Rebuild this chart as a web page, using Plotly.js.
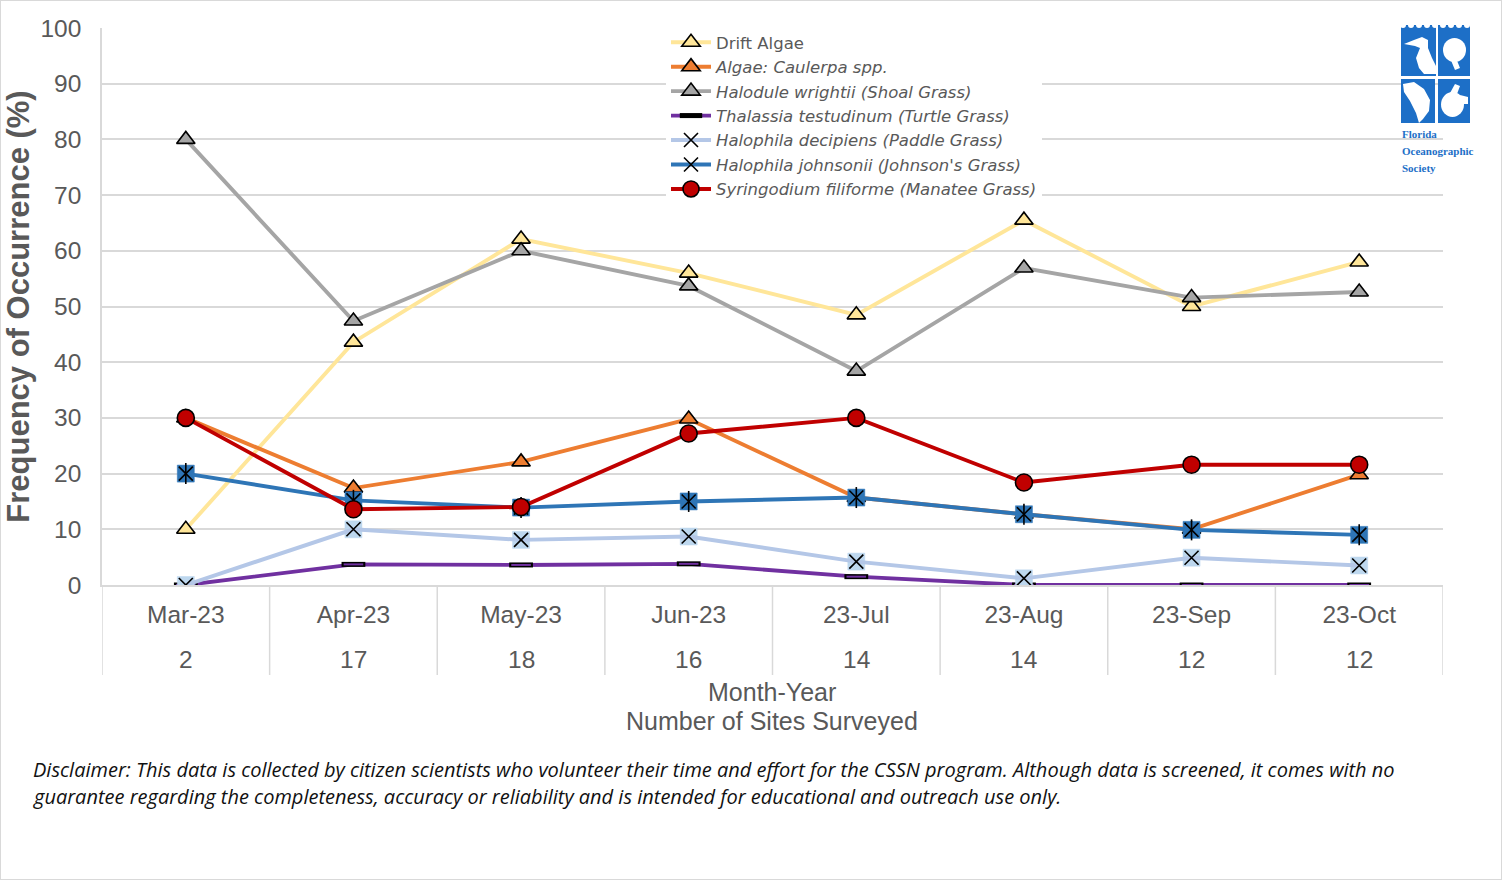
<!DOCTYPE html>
<html>
<head>
<meta charset="utf-8">
<script src="https://cdn.plot.ly/plotly-3.0.1.min.js"></script>
<style>
  html, body { margin: 0; padding: 0; background: #fff; }
  #chart { width: 1500px; height: 878px; border: 1px solid #d9d9d9; }
</style>
</head>
<body>
<div id="chart"></div>
<script>
// ---- data ----
const months = ['Mar-23', 'Apr-23', 'May-23', 'Jun-23', '23-Jul', '23-Aug', '23-Sep', '23-Oct'];
const sitesSurveyed = [2, 17, 18, 16, 14, 14, 12, 12];
const driftAlgae = [10, 43.6, 62.1, 56.0, 48.5, 65.5, 50, 58.0];
const caulerpa = [30, 17.4, 22.1, 29.8, 15.7, 12.7, 10, 19.8];
const halodule = [80, 47.4, 60, 53.7, 38.4, 56.9, 51.6, 52.6];
const thalassia = [0, 3.7, 3.6, 3.8, 1.5, 0, 0, 0];
const decipiens = [0, 10, 8.1, 8.7, 4.2, 1.2, 4.9, 3.5];
const johnsonii = [20, 15.2, 13.9, 15.0, 15.7, 12.7, 9.9, 9.0];
const syringodium = [30, 13.6, 14.0, 27.2, 30, 18.4, 21.6, 21.6];
const seriesNames = [
  'Drift Algae',
  '<i>Algae: Caulerpa spp.</i>',
  '<i>Halodule wrightii (Shoal Grass)</i>',
  '<i>Thalassia testudinum (Turtle Grass)</i>',
  '<i>Halophila decipiens (Paddle Grass)</i>',
  "<i>Halophila johnsonii (Johnson's Grass)</i>",
  '<i>Syringodium filiforme (Manatee Grass)</i>'
];

// ---- styles ----
const LW = 3.9;
const axisGrey = '#595959';
const gridGrey = '#d9d9d9';
const arial = 'Liberation Sans, Arial, sans-serif';

const traces = [];
function main(y, name, color, marker) {
  return { x: months, y: y, name: name, type: 'scatter', mode: 'lines+markers',
           line: { color: color, width: LW }, marker: marker, hoverinfo: 'y+name' };
}
function overlay(y, marker) {
  return { x: months, y: y, type: 'scatter', mode: 'markers', showlegend: false,
           marker: marker, hoverinfo: 'skip' };
}

traces.push(main(driftAlgae, seriesNames[0], '#FFE699',
  { symbol: 'triangle-up', size: 16, color: '#FFE699', line: { color: '#000', width: 1.6 } }));
traces.push(main(caulerpa, seriesNames[1], '#ED7D31',
  { symbol: 'triangle-up', size: 16, color: '#ED7D31', line: { color: '#000', width: 1.6 } }));
traces.push(main(halodule, seriesNames[2], '#A5A5A5',
  { symbol: 'triangle-up', size: 16, color: '#A5A5A5', line: { color: '#000', width: 1.6 } }));
traces.push(main(thalassia, seriesNames[3], '#7030A0',
  { symbol: 'line-ew', size: 17, color: '#000', line: { color: '#000', width: 5 } }));
traces.push(overlay(thalassia,
  { symbol: 'line-ew', size: 14, color: '#7030A0', line: { color: '#7030A0', width: 2 } }));
// Halophila decipiens: light square under a thin black X
traces.push(overlay(decipiens,
  { symbol: 'square', size: 17, color: '#BDD7EE', line: { color: '#BDD7EE', width: 0.5 } }));
traces.push(main(decipiens, seriesNames[4], '#B4C7E7',
  { symbol: 'x-thin', size: 14, color: '#000', line: { color: '#000', width: 1.6 } }));
// Halophila johnsonii: blue square with black star
traces.push(overlay(johnsonii,
  { symbol: 'square', size: 17, color: '#2E75B6', line: { color: '#2E75B6', width: 0.5 } }));
traces.push(main(johnsonii, seriesNames[5], '#2E75B6',
  { symbol: 'x-thin', size: 14, color: '#000', line: { color: '#000', width: 1.6 } }));
traces.push(overlay(johnsonii,
  { symbol: 'line-ns', size: 15, color: '#000', line: { color: '#000', width: 1.6 } }));
traces.push(main(syringodium, seriesNames[6], '#C00000',
  { symbol: 'circle', size: 17, color: '#C00000', line: { color: '#000', width: 1.6 } }));

// ---- geometry helpers (pixel -> paper) ----
const PL = 102, PR = 1443, PT = 28, PB = 585;
const px = v => (v - PL) / (PR - PL);
const py = v => (PB - v) / (PB - PT);
const poly = pts => 'M' + pts.map(p => px(p[0]).toFixed(5) + ',' + py(p[1]).toFixed(5)).join('L') + 'Z';

const shapes = [];
const annotations = [];

// category dividers below the axis
for (let i = 0; i <= months.length; i++) {
  shapes.push({ type: 'line', xref: 'x', yref: 'paper', x0: i - 0.5, x1: i - 0.5,
                y0: 0, y1: py(675), line: { color: gridGrey, width: 1.5 } });
}
// number of sites (second tick row)
sitesSurveyed.forEach((s, i) => {
  annotations.push({ xref: 'x', yref: 'paper', x: months[i], y: py(659), text: String(s),
                     showarrow: false, xanchor: 'center', yanchor: 'middle',
                     font: { family: arial, size: 24.5, color: axisGrey } });
});
// x-axis title (two lines)
annotations.push({ xref: 'paper', yref: 'paper', x: px(772), y: py(692), text: 'Month-Year',
  showarrow: false, xanchor: 'center', yanchor: 'middle',
  font: { family: arial, size: 25, color: axisGrey } });
annotations.push({ xref: 'paper', yref: 'paper', x: px(772), y: py(721), text: 'Number of Sites Surveyed',
  showarrow: false, xanchor: 'center', yanchor: 'middle',
  font: { family: arial, size: 25, color: axisGrey } });
// disclaimer
annotations.push({ xref: 'paper', yref: 'paper', x: px(31), y: py(769), xanchor: 'left', yanchor: 'middle',
  showarrow: false, align: 'left',
  text: '<i>Disclaimer: This data is collected by citizen scientists who volunteer their time and effort for the CSSN program. Although data is screened, it comes with no</i>',
  font: { family: 'Open Sans, Noto Sans, sans-serif', size: 20, color: '#111' } });
annotations.push({ xref: 'paper', yref: 'paper', x: px(31), y: py(796), xanchor: 'left', yanchor: 'middle',
  showarrow: false, align: 'left',
  text: '<i>guarantee regarding the completeness, accuracy or reliability and is intended for educational and outreach use only.</i>',
  font: { family: 'Open Sans, Noto Sans, sans-serif', size: 20, color: '#111' } });

// logo (Florida Oceanographic Society)
const logoBlue = '#1d6fc7';
[[1401, 25, 1436, 76], [1438, 25, 1470, 76], [1401, 79, 1435, 123], [1438, 79, 1470, 123]].forEach(r => {
  shapes.push({ type: 'rect', xref: 'paper', yref: 'paper', x0: px(r[0]), x1: px(r[2]),
                y0: py(r[3]), y1: py(r[1]), fillcolor: logoBlue, line: { width: 0 } });
});
// waves on top
for (let wx = 1401; wx < 1470; wx += 8) {
  shapes.push({ type: 'circle', xref: 'paper', yref: 'paper', x0: px(wx - 1), x1: px(wx + 5),
                y0: py(28), y1: py(22), fillcolor: '#fff', line: { width: 0 } });
}
// rough white silhouettes (pelican, manatee, fish, turtle)
const white = { fillcolor: '#fff', line: { width: 0 }, xref: 'paper', yref: 'paper', type: 'path' };
shapes.push(Object.assign({}, white, { path: poly([[1404, 44], [1414, 40], [1422, 37], [1428, 40], [1428, 48], [1432, 58], [1436, 66], [1436, 74], [1424, 74], [1419, 68], [1416, 58], [1420, 48], [1415, 46]]) }));
shapes.push({ type: 'circle', xref: 'paper', yref: 'paper', x0: px(1443), x1: px(1466), y0: py(62), y1: py(38), fillcolor: '#fff', line: { width: 0 } });
shapes.push(Object.assign({}, white, { path: poly([[1450, 58], [1456, 58], [1460, 68], [1455, 70]]) }));
shapes.push(Object.assign({}, white, { path: poly([[1403, 84], [1414, 82], [1424, 89], [1430, 100], [1429, 111], [1423, 119], [1419, 123], [1416, 113], [1410, 101], [1404, 92]]) }));
shapes.push({ type: 'circle', xref: 'paper', yref: 'paper', x0: px(1441), x1: px(1464), y0: py(117), y1: py(92), fillcolor: '#fff', line: { width: 0 } });
shapes.push(Object.assign({}, white, { path: poly([[1460, 95], [1468, 97], [1468, 104], [1462, 104]]) }));
shapes.push(Object.assign({}, white, { path: poly([[1450, 93], [1455, 84], [1460, 86], [1457, 94]]) }));
['Florida', 'Oceanographic', 'Society'].forEach((t, i) => {
  annotations.push({ xref: 'paper', yref: 'paper', x: px(1400), y: py([134, 151, 168][i]), text: '<b>' + t + '</b>',
    showarrow: false, xanchor: 'left', yanchor: 'middle',
    font: { family: 'Liberation Serif, DejaVu Serif, serif', size: 11, color: logoBlue } });
});

const layout = {
  width: 1500, height: 878,
  margin: { l: PL - 1, r: 1500 - (PR - 1), t: PT - 1, b: 878 - (PB - 1) },
  paper_bgcolor: '#fff', plot_bgcolor: '#fff',
  showlegend: true,
  xaxis: {
    type: 'category', range: [-0.5, months.length - 0.5],
    showgrid: false, zeroline: false, showline: true, linecolor: gridGrey, linewidth: 1.5,
    ticks: '', ticklabelstandoff: 7,
    tickfont: { family: arial, size: 24.5, color: axisGrey },
    automargin: false
  },
  yaxis: {
    range: [0, 100], dtick: 10, showgrid: true, gridcolor: gridGrey, gridwidth: 1.5,
    zeroline: false, showline: true, linecolor: gridGrey, linewidth: 1.5,
    ticks: '', ticklabelstandoff: 14,
    tickfont: { family: arial, size: 24.5, color: axisGrey },
    title: { text: '<b>Frequency of Occurrence (%)</b>', standoff: 3,
             font: { family: arial, size: 31, color: axisGrey } },
    automargin: false
  },
  legend: {
    x: px(666), y: py(25), xanchor: 'left', yanchor: 'top',
    bgcolor: '#fff', borderwidth: 0, tracegroupgap: 0,
    font: { family: 'DejaVu Sans, sans-serif', size: 16.5, color: axisGrey },
    itemwidth: 40
  },
  shapes: shapes,
  annotations: annotations
};

Plotly.newPlot('chart', traces, layout, { displayModeBar: false, responsive: false });
</script>
</body>
</html>
